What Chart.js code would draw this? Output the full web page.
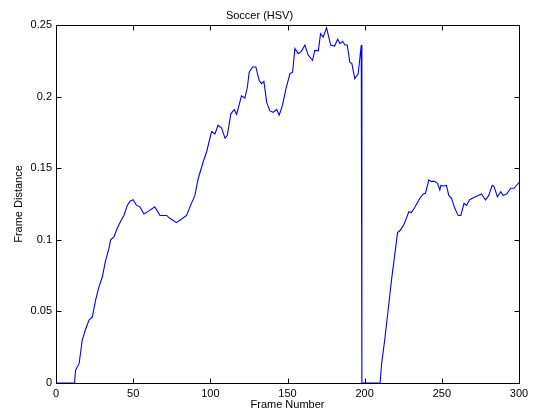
<!DOCTYPE html>
<html>
<head>
<meta charset="utf-8">
<script src="https://cdn.jsdelivr.net/npm/chart.js@4.4.0/dist/chart.umd.min.js"></script>
<style>
html,body{margin:0;padding:0;background:#fff;}
#wrap{width:537px;height:418px;position:relative;}
</style>
</head>
<body>
<div id="wrap"><canvas id="c" width="537" height="418"></canvas></div>
<script>
const chartTitle = 'Soccer (HSV)';
const xAxisTitle = 'Frame Number';
const yAxisTitle = 'Frame Distance';

const frames = [0,12,12.7,15,17,19,21.4,23.5,25.7,27.8,30,32,34.3,35.4,37.5,39.7,41.9,44,46.2,48,50,52.2,54.4,57,60,64,67.4,71.7,73.8,78,81.4,84.6,86.8,90,92.2,95.4,97.6,100.8,103,105,107.3,109.5,111,113.3,115.5,117,120.2,122.4,124,125.2,127.4,129.5,131.7,133.2,134.7,136.5,138.6,140.7,143,144.6,146.8,149,151.6,153.3,154.8,157,159,161.3,163.4,166.2,167.7,170,171.4,173.1,175.3,178,180.5,182.5,184,185.7,187.2,188.7,190.4,191.7,193.6,195.8,197.8,198.2,210,211,213,215.2,217.4,219.6,221.3,223.4,225.6,227,228.6,230.3,232.5,235.8,238,239.4,241.6,243.3,245,247.2,248.7,249.4,250.9,253,254.5,256.3,258.4,260.6,262.3,264.4,266,268,271,273.6,275.7,278.3,280.4,282.6,283.9,286,288.2,289.7,291.9,294.7,296.8,300];
const distances = [0,0,0.009,0.0137,0.030,0.037,0.044,0.046,0.058,0.067,0.074,0.085,0.094,0.100,0.102,0.108,0.113,0.117,0.124,0.127,0.128,0.124,0.123,0.118,0.120,0.123,0.117,0.117,0.115,0.112,0.1145,0.117,0.123,0.131,0.143,0.1545,0.1615,0.1755,0.174,0.180,0.178,0.171,0.173,0.188,0.191,0.1875,0.2005,0.199,0.2067,0.217,0.2207,0.2207,0.211,0.209,0.2106,0.196,0.190,0.189,0.191,0.187,0.194,0.2055,0.216,0.217,0.2335,0.230,0.2316,0.236,0.229,0.2253,0.2323,0.232,0.244,0.2416,0.248,0.236,0.2353,0.240,0.237,0.2386,0.236,0.236,0.224,0.223,0.2125,0.216,0.236,0,0,0.0137,0.030,0.051,0.072,0.0905,0.105,0.107,0.111,0.115,0.1196,0.119,0.1227,0.129,0.132,0.1325,0.1418,0.1406,0.141,0.1394,0.1348,0.138,0.1376,0.138,0.131,0.129,0.122,0.117,0.117,0.1255,0.124,0.128,0.1297,0.131,0.132,0.1278,0.131,0.138,0.137,0.130,0.1336,0.131,0.132,0.136,0.136,0.140];

const xTicks = [0,50,100,150,200,250,300];
const xTickLabels = ['0','50','100','150','200','250','300'];
const yTicks = [0,0.05,0.1,0.15,0.2,0.25];
const yTickLabels = ['0','0.05','0.1','0.15','0.2','0.25'];

const FONT = '"Liberation Sans", Arial, Helvetica, sans-serif';

const boxPlugin = {
  id: 'matlabBox',
  beforeDatasetsDraw(chart) {
    const {ctx, chartArea: a, scales: {x, y}} = chart;
    ctx.save();
    ctx.strokeStyle = '#000';
    ctx.lineWidth = 1;
    const L = Math.round(a.left) + 0.5, R = Math.round(a.right) + 0.5;
    const T = Math.round(a.top) + 0.5, B = Math.round(a.bottom) + 0.5;
    ctx.strokeRect(L, T, R - L, B - T);
    const tl = 5;
    ctx.beginPath();
    xTicks.forEach(v => {
      const px = Math.round(x.getPixelForValue(v)) + 0.5;
      ctx.moveTo(px, B); ctx.lineTo(px, B - tl);
      ctx.moveTo(px, T); ctx.lineTo(px, T + tl);
    });
    yTicks.forEach(v => {
      const py = Math.round(y.getPixelForValue(v)) + 0.5;
      ctx.moveTo(L, py); ctx.lineTo(L + tl, py);
      ctx.moveTo(R, py); ctx.lineTo(R - tl, py);
    });
    ctx.stroke();
    ctx.restore();
  }
};

new Chart(document.getElementById('c'), {
  type: 'line',
  data: {
    datasets: [{
      data: frames.map((f, i) => ({x: f, y: distances[i]})),
      borderColor: '#0000ff',
      borderWidth: 1.1,
      pointRadius: 0,
      tension: 0,
      fill: false
    }]
  },
  options: {
    responsive: false,
    animation: false,
    events: [],
    layout: {padding: {left: 0, right: 18, top: 0, bottom: 0}},
    plugins: {
      legend: {display: false},
      tooltip: {enabled: false},
      title: {
        display: true,
        text: chartTitle,
        color: '#000',
        font: {family: FONT, size: 11, weight: 'normal'},
        padding: {top: 9.8, bottom: 2}
      }
    },
    scales: {
      x: {
        type: 'linear',
        min: 0, max: 300,
        grid: {display: false, drawTicks: false},
        border: {display: false},
        afterBuildTicks(s) { s.ticks = xTicks.map(v => ({value: v})); },
        afterFit(s) { s.height = 35; },
        ticks: {
          color: '#000',
          font: {family: FONT, size: 11},
          padding: 4,
          maxRotation: 0,
          callback: (v) => xTickLabels[xTicks.indexOf(v)]
        },
        title: {
          display: true,
          text: xAxisTitle,
          color: '#000',
          font: {family: FONT, size: 11},
          padding: {top: 0, bottom: 6.6}
        }
      },
      y: {
        type: 'linear',
        min: 0, max: 0.25,
        grid: {display: false, drawTicks: false},
        border: {display: false},
        afterBuildTicks(s) { s.ticks = yTicks.map(v => ({value: v})); },
        afterFit(s) { s.width = 56; },
        ticks: {
          color: '#000',
          font: {family: FONT, size: 11},
          padding: 4,
          callback: (v) => {
            const i = yTicks.findIndex(t => Math.abs(t - v) < 1e-9);
            return i >= 0 ? yTickLabels[i] : '';
          }
        },
        title: {
          display: true,
          text: yAxisTitle,
          color: '#000',
          font: {family: FONT, size: 11},
          padding: {top: 12, bottom: 0}
        }
      }
    }
  },
  plugins: [boxPlugin, {
    id: 'bg',
    beforeDraw(chart) {
      const ctx = chart.ctx;
      ctx.save();
      ctx.fillStyle = '#fff';
      ctx.fillRect(0, 0, chart.width, chart.height);
      ctx.restore();
    }
  }]
});
</script>
</body>
</html>
